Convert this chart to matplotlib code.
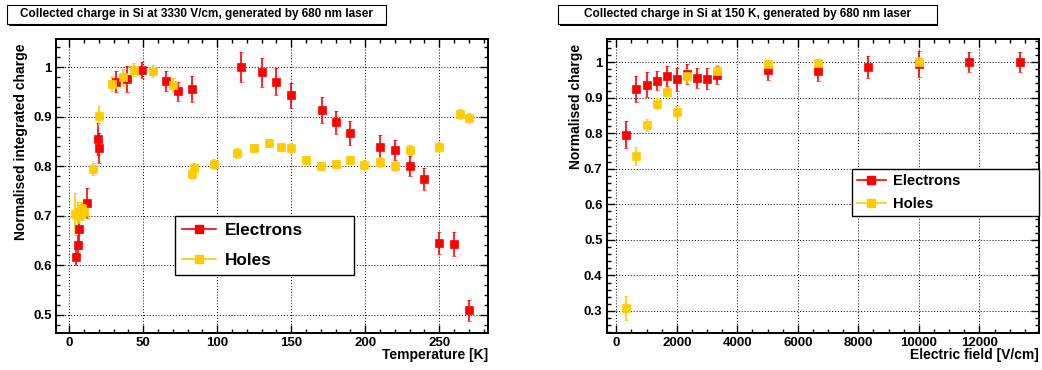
import matplotlib
matplotlib.use("Agg")
import matplotlib.pyplot as plt
import matplotlib.patches as patches
from matplotlib.ticker import MultipleLocator

plt.rcParams["font.family"] = ["Liberation Sans", "DejaVu Sans"]
plt.rcParams["font.weight"] = "bold"

red = "#FF0000"
yellow = "#FFCC00"

# temperature scan at 3330 V/cm
temp_e = [4.5, 5.7, 6.8, 11.7, 19.2, 20, 31.8, 39, 48.9, 65.1, 73.2, 82.7, 116, 130,
          140, 150, 171, 180, 190, 210, 220, 230, 240, 250, 260, 270]
charge_e = [0.616, 0.641, 0.674, 0.725, 0.855, 0.837, 0.971, 0.976, 0.995, 0.972, 0.951,
            0.956, 1.0, 0.99, 0.971, 0.943, 0.914, 0.889, 0.867, 0.839, 0.832, 0.80,
            0.774, 0.645, 0.643, 0.509]
err_e = [0.016, 0.02, 0.025, 0.03, 0.032, 0.031, 0.022, 0.026, 0.016, 0.021, 0.02,
         0.027, 0.03, 0.029, 0.028, 0.025, 0.026, 0.023, 0.025, 0.025, 0.02, 0.02,
         0.022, 0.023, 0.024, 0.021]

temp_h = [4.0, 5.6, 6.6, 7.8, 8.8, 9.9, 16, 20, 29, 36, 43.5, 56.5, 70, 82.7, 84, 98,
          113.3, 125, 135, 143, 150, 160, 170, 180, 190, 199, 210, 220, 230, 250, 264, 270]
charge_h = [0.703, 0.707, 0.70, 0.715, 0.713, 0.707, 0.794, 0.902, 0.967, 0.98, 0.995,
            0.992, 0.964, 0.784, 0.797, 0.804, 0.826, 0.837, 0.846, 0.839, 0.836, 0.812,
            0.801, 0.805, 0.813, 0.802, 0.808, 0.801, 0.832, 0.839, 0.906, 0.897]
err_h = [0.043, 0.02, 0.015, 0.012, 0.012, 0.012, 0.012, 0.019, 0.015, 0.017, 0.013,
         0.012, 0.015, 0.01, 0.01, 0.01, 0.01, 0.008, 0.008, 0.008, 0.01, 0.008, 0.008,
         0.008, 0.008, 0.01, 0.01, 0.01, 0.01, 0.01, 0.01, 0.01]

# field scan at 150 K
field_e = [333, 667, 1000, 1333, 1667, 2000, 2333, 2667, 3000, 3333, 5000, 6667, 8333,
           10000, 11667, 13333]
qf_e = [0.796, 0.924, 0.937, 0.948, 0.962, 0.952, 0.967, 0.956, 0.953, 0.964, 0.977,
        0.976, 0.986, 0.994, 1.0, 1.0]
errf_e = [0.038, 0.036, 0.034, 0.026, 0.028, 0.032, 0.028, 0.028, 0.03, 0.025, 0.028,
          0.03, 0.03, 0.037, 0.028, 0.029]

field_h = [333, 667, 1000, 1333, 1667, 2000, 2333, 3333, 5000, 6667, 10000]
qf_h = [0.308, 0.736, 0.824, 0.883, 0.917, 0.86, 0.961, 0.976, 0.994, 0.997, 1.0]
errf_h = [0.034, 0.026, 0.017, 0.016, 0.013, 0.017, 0.02, 0.015, 0.012, 0.012, 0.015]

W, H = 1042, 370
fig = plt.figure(figsize=(W / 100, H / 100), dpi=100)
ax1 = fig.add_axes([56 / W, 37 / H, 432 / W, 294 / H])
ax2 = fig.add_axes([606.7 / W, 37 / H, 432.3 / W, 294 / H])


def draw(ax, x, y, e, col):
    ax.errorbar(x, y, yerr=e, fmt="s", color=col, ms=5.2, mec=col, mew=0.5,
                ecolor=col, elinewidth=1.2, capsize=1.5, capthick=1.2)


draw(ax1, temp_e, charge_e, err_e, red)
draw(ax1, temp_h, charge_h, err_h, yellow)
draw(ax2, field_e, qf_e, errf_e, red)
draw(ax2, field_h, qf_h, errf_h, yellow)

ax1.set_xlim(-9, 283)
ax1.set_ylim(0.463, 1.057)
ax1.xaxis.set_major_locator(MultipleLocator(50))
ax1.xaxis.set_minor_locator(MultipleLocator(10))
ax1.set_yticks([0.5, 0.6, 0.7, 0.8, 0.9, 1.0])
ax1.set_yticklabels(["0.5", "0.6", "0.7", "0.8", "0.9", "1"])
ax1.yaxis.set_minor_locator(MultipleLocator(0.02))

ax2.set_xlim(-317, 13970)
ax2.set_ylim(0.238, 1.065)
ax2.set_xticks([0, 2000, 4000, 6000, 8000, 10000, 12000])
ax2.xaxis.set_minor_locator(MultipleLocator(500))
ax2.set_yticks([0.3, 0.4, 0.5, 0.6, 0.7, 0.8, 0.9, 1.0])
ax2.set_yticklabels(["0.3", "0.4", "0.5", "0.6", "0.7", "0.8", "0.9", "1"])
ax2.yaxis.set_minor_locator(MultipleLocator(0.02))

for ax in (ax1, ax2):
    ax.grid(True, which="major", color="black", linestyle=(0, (1, 2)), linewidth=0.7)
    ax.tick_params(which="both", direction="in", top=True, right=True, labelsize=9.5,
                   width=1.0, pad=3)
    ax.tick_params(which="major", length=5.5)
    ax.tick_params(which="minor", length=3)
    for s in ax.spines.values():
        s.set_linewidth(1.4)
    for lab in ax.get_xticklabels() + ax.get_yticklabels():
        lab.set_fontweight("bold")

ax1.text(1.0, -0.075, "Temperature [K]", transform=ax1.transAxes, ha="right",
         va="center", fontsize=10, fontweight="bold")
ax1.text(-0.081, 0.985, "Normalised integrated charge", transform=ax1.transAxes,
         rotation=90, ha="center", va="top", fontsize=10, fontweight="bold")
ax2.text(1.0, -0.075, "Electric field [V/cm]", transform=ax2.transAxes, ha="right",
         va="center", fontsize=10, fontweight="bold")
ax2.text(-0.071, 0.985, "Normalised charge", transform=ax2.transAxes,
         rotation=90, ha="center", va="top", fontsize=10, fontweight="bold")

# legends
for ax, box, fs, sp, bp in ((ax1, (0.276, 0.197, 0.414, 0.202), 12.3, 0.9, 0.4),
                            (ax2, (0.567, 0.396, 0.432, 0.161), 10.6, 0.6, 0.33)):
    hl = [ax.plot([], [], "-s", color=c, ms=5.2, lw=1.2)[0] for c in (red, yellow)]
    leg = ax.legend(hl, ["Electrons", "Holes"], loc="upper left",
                    bbox_to_anchor=box, mode="expand", borderaxespad=0, fancybox=False,
                    framealpha=1, edgecolor="black", handlelength=2.0,
                    handletextpad=0.5, labelspacing=sp, borderpad=bp,
                    prop={"weight": "bold", "size": fs})
    leg.get_frame().set_linewidth(1.0)

# title boxes
for x0, x1, title in ((7, 385.7, "Collected charge in Si at 3330 V/cm, generated by 680 nm laser"),
                      (558, 936.7, "Collected charge in Si at 150 K, generated by 680 nm laser")):
    sh = patches.Rectangle(((x0 + 1.5) / W, (370 - 25.5) / H), (x1 - x0) / W, 19 / H,
                           transform=fig.transFigure, facecolor="black", edgecolor="none")
    bx = patches.Rectangle((x0 / W, (370 - 24) / H), (x1 - x0) / W, 19 / H,
                           transform=fig.transFigure, facecolor="white",
                           edgecolor="black", linewidth=0.8)
    fig.patches.extend([sh, bx])
    fig.text((x0 + x1) / 2 / W, (370 - 14.5) / H, title, ha="center", va="center",
             fontsize=8.5, fontweight="bold")

fig.savefig("out.png", dpi=100)
